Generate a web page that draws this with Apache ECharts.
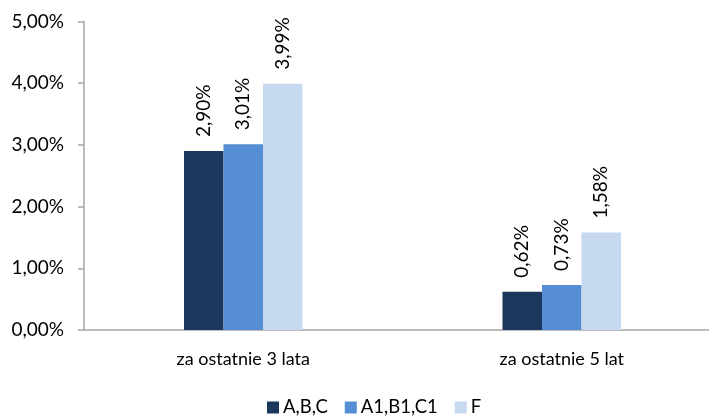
<!DOCTYPE html>
<html><head><meta charset="utf-8">
<script src="https://cdn.jsdelivr.net/npm/echarts@6/dist/echarts.min.js"></script>
<style>html,body{margin:0;padding:0;background:#fff}#c{width:709px;height:418px}</style>
</head><body><div id="c"></div>
<script>
const categories = ['za ostatnie 3 lata', 'za ostatnie 5 lat'];
const seriesNames = ['A,B,C', 'A1,B1,C1', 'F'];
const valsABC = [2.90, 0.62];
const valsA1B1C1 = [3.01, 0.73];
const valsF = [3.99, 1.58];
const yTicks = [0, 1, 2, 3, 4, 5];

const colors = ['#1b375e', '#558ed5', '#c6d9f1'];
const font = 'Lato';
const fmt = v => Number(v).toFixed(2).replace('.', ',') + '%';

const chart = echarts.init(document.getElementById('c'), null, {renderer: 'canvas'});
const mk = (name, data, i) => ({
  name, type: 'bar', data, barWidth: 39.5, barGap: '0%',
  itemStyle: {color: colors[i]},
  label: {show: true, position: 'top', rotate: 90, align: 'left', verticalAlign: 'middle',
    distance: 14, fontFamily: font, fontSize: 19, color: '#000', formatter: p => fmt(p.value)}
});
chart.setOption({
  animation: false,
  textStyle: {fontFamily: font},
  grid: {left: 84, width: 637, top: 21.5, height: 308.5, containLabel: false, outerBoundsMode: 'none'},
  legend: {
    data: seriesNames, left: 267, top: 398, padding: 0, itemWidth: 12, itemHeight: 12, itemGap: 17,
    icon: 'rect', textStyle: {fontFamily: font, fontSize: 18.5, color: '#000', padding: [0, 0, 0, -1]}
  },
  xAxis: {
    type: 'category', data: categories,
    axisLine: {lineStyle: {color: '#a6a6a6', width: 1.5}},
    axisTick: {show: false},
    axisLabel: {fontFamily: font, fontSize: 18, color: '#000', margin: 20}
  },
  yAxis: {
    type: 'value', min: yTicks[0], max: yTicks[yTicks.length - 1], interval: 1,
    splitLine: {show: false},
    axisLine: {show: true, lineStyle: {color: '#a6a6a6', width: 1.5}},
    axisTick: {show: true, length: 6, lineStyle: {color: '#a6a6a6', width: 1.5}},
    axisLabel: {fontFamily: font, fontSize: 19, color: '#000', margin: 20, formatter: fmt}
  },
  series: [mk(seriesNames[0], valsABC, 0), mk(seriesNames[1], valsA1B1C1, 1), mk(seriesNames[2], valsF, 2)]
});
</script></body></html>
